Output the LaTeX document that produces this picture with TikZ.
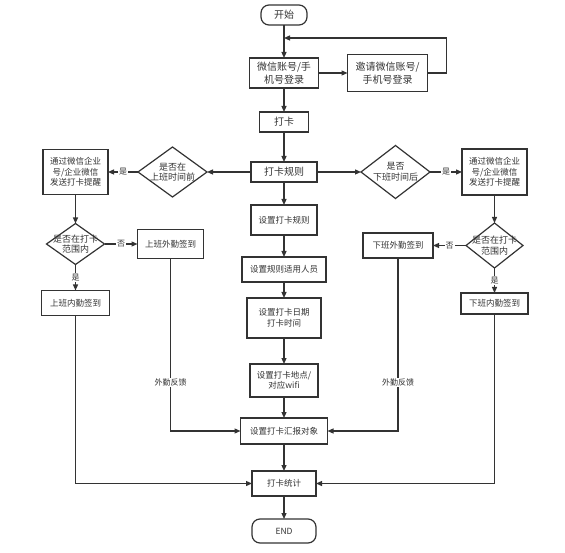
\documentclass[tikz,border=0pt]{standalone}
\usepackage{fontspec}
\setmainfont{Noto Sans CJK SC}
\usetikzlibrary{arrows.meta, positioning, shapes.geometric}
\definecolor{ink}{HTML}{333333}

\begin{document}
\begin{tikzpicture}[>={Triangle[length=6pt,width=5pt]}, color=ink, line width=1.2pt,
  font=\fontsize{8.5}{10.5}\selectfont]
  \tikzset{
    box/.style={
      draw,
      rectangle,
      inner sep=0pt,
      outer sep=0pt,
      align=center},
    term/.style={
      box,
      rounded corners=8pt},
    decide/.style={
      draw,
      diamond,
      inner sep=0pt,
      outer sep=0pt},
    dtext/.style={
      align=center,
      inner sep=0pt,
      font=\fontsize{9}{10.7}\selectfont},
    lbl/.style={
      fill=white,
      inner sep=1pt,
      font=\fontsize{8}{9}\selectfont},
    big/.style={font=\fontsize{10}{13}\selectfont}}

  \useasboundingbox (0,0) rectangle (565pt,-553pt);

  \node[term, big, minimum width=46pt, minimum height=20pt] (start) at (284pt,-15pt) {开始};
  \node[box, big, minimum width=69pt, minimum height=30pt] (login) [below=33pt of start] {微信账号/手\\机号登录};
  \node[box, big, minimum width=80pt, minimum height=37pt] (invite) [right=29pt of login] {邀请微信账号/\\手机号登录};
  \node[box, big, minimum width=49pt, minimum height=20pt] (punch) [below=24pt of login] {打卡};
  \node[box, big, minimum width=66pt, minimum height=20pt] (rule) [below=30pt of punch] {打卡规则};

  \node[decide, minimum width=69pt, minimum height=50pt,
    label={[dtext]center:{是否在\\上班时间前}}] (early) [left=44pt of rule] {};
  \node[box, minimum width=65pt, minimum height=45pt] (remindA) [left=30pt of early] {通过微信企业\\号/企业微信\\发送打卡提醒};
  \node[decide, minimum width=58pt, minimum height=41pt,
    label={[dtext]center:{是否在打卡\\范围内}}] (rangeA) [below=29pt of remindA] {};
  \node[box, minimum width=66pt, minimum height=29pt] (outA) [right=33pt of rangeA] {上班外勤签到};
  \node[box, minimum width=68pt, minimum height=25pt] (inA) [below=26pt of rangeA] {上班内勤签到};

  \node[decide, minimum width=69pt, minimum height=53pt,
    label={[dtext]center:{是否\\下班时间后}}] (late) [right=44pt of rule] {};
  \node[box, minimum width=65pt, minimum height=46pt] (remindB) [right=32pt of late] {通过微信企业\\号/企业微信\\发送打卡提醒};
  \node[decide, minimum width=57pt, minimum height=45pt,
    label={[dtext]center:{是否在打卡\\范围内}}] (rangeB) [below=28pt of remindB] {};
  \node[box, minimum width=70pt, minimum height=25pt] (outB) [left=33pt of rangeB] {下班外勤签到};
  \node[box, minimum width=67pt, minimum height=21pt] (inB) [below=25pt of rangeB] {下班内勤签到};

  \node[box, minimum width=66pt, minimum height=30pt] (setrule) [below=23pt of rule] {设置打卡规则};
  \node[box, minimum width=84pt, minimum height=25pt] (people) [below=22pt of setrule] {设置规则适用人员};
  \node[box, minimum width=74pt, minimum height=40pt] (date) [below=16pt of people] {设置打卡日期\\打卡时间};
  \node[box, minimum width=68pt, minimum height=33pt] (place) [below=26pt of date] {设置打卡地点/\\对应wifi};
  \node[box, minimum width=87pt, minimum height=26pt] (report) [below=21pt of place] {设置打卡汇报对象};
  \node[box, minimum width=64pt, minimum height=25pt] (stat) [below=27pt of report] {打卡统计};
  \node[term, minimum width=64pt, minimum height=24pt] (end) [below=23pt of stat] {END};

  \coordinate (back) at (284pt,-38pt);

  \draw[->] (start) -- (login);
  \draw[->] (login) -- (invite);
  \draw[->] (invite.east) -- ++(19pt,0) |- (back);
  \draw[->] (login) -- (punch);
  \draw[->] (punch) -- (rule);

  % morning branch
  \draw[->] (rule) -- (early);
  \draw[->] (early) -- node[lbl] {是} (remindA);
  \draw[->] (remindA) -- (rangeA);
  \draw[->] (rangeA) -- node[lbl] {否} (outA);
  \draw[->] (rangeA) -- node[lbl] {是} (inA);
  \draw[->] (outA) |- node[lbl, pos=0.36] {外勤反馈} (report);
  \draw[->] (inA) |- (stat);

  % evening branch
  \draw[->] (rule) -- (late);
  \draw[->] (late) -- node[lbl] {是} (remindB);
  \draw[->] (remindB) -- (rangeB);
  \draw[->] (rangeB) -- node[lbl] {否} (outB);
  \draw[->] (rangeB) -- node[lbl] {是} (inB);
  \draw[->] (outB) |- node[lbl, pos=0.36] {外勤反馈} (report);
  \draw[->] (inB) |- (stat);

  \draw[->] (rule) -- (setrule);
  \draw[->] (setrule) -- (people);
  \draw[->] (people) -- (date);
  \draw[->] (date) -- (place);
  \draw[->] (place) -- (report);
  \draw[->] (report) -- (stat);
  \draw[->] (stat) -- (end);

\end{tikzpicture}
\end{document}
